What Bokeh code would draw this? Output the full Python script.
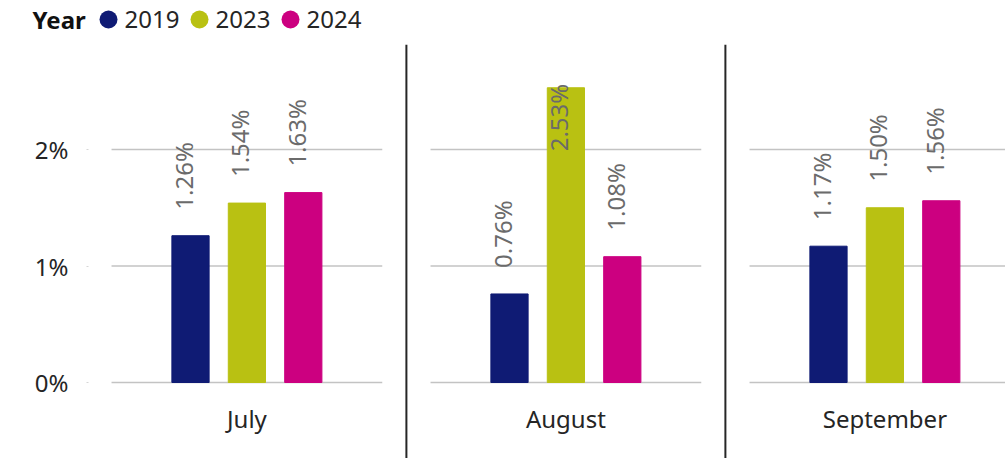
import math
from bokeh.plotting import figure
from bokeh.layouts import column
from bokeh.models import Range1d, ColumnDataSource, FixedTicker
from bokeh.core.properties import value
from bokeh.embed import file_html
from bokeh.resources import INLINE

# ---- data ----
months = ["July", "August", "September"]
years = ["2019", "2023", "2024"]
colors = ["#0f1b74", "#b9c112", "#cc0080"]
v2019 = [1.26, 0.76, 1.17]
v2023 = [1.54, 2.53, 1.50]
v2024 = [1.63, 1.08, 1.56]
y_ticks = [0, 1, 2]
y_tick_labels = ["0%", "1%", "2%"]
legend_title = "Year"

# ---- layout constants (style) ----
FONT = "Noto Sans"
W = 1005
TOP_H = 44          # height of the legend strip
H = 458 - TOP_H     # height of the chart
LEFT = 88
GROUP = 5.656       # distance between month groups, in bar slots
BAR_W = 0.66
PX = 116.5          # pixels per 1 percentage point
SLOT = 56.4         # pixels per bar slot
HALF_PANEL = 2.4    # half width of a panel's gridlines, in slots
ZERO_Y = 382 - TOP_H  # pixel row of 0% inside the chart
LABEL_DX = -7 / SLOT  # horizontal nudge of the value labels
LEG_TITLE_X = 32
LEG_MARK_X = [108, 199, 290]
LEG_TEXT_GAP = 16
LEG_Y = 19

series = [v2019, v2023, v2024]
xs, lxs, tops, cols, lab_y, lab_txt, lab_align = [], [], [], [], [], [], []
for g, m in enumerate(months):
    for j, vals in enumerate(series):
        v = vals[g]
        xs.append(g * GROUP + j)
        lxs.append(g * GROUP + j + LABEL_DX)
        tops.append(v)
        cols.append(colors[j])
        lab_txt.append(f"{v:.2f}%")
        if v > 2.2:
            lab_y.append(v + 4 / PX)
            lab_align.append("right")
        else:
            lab_y.append(v + 26 / PX)
            lab_align.append("left")

bars = ColumnDataSource(dict(x=xs, lx=lxs, top=tops, color=cols, ly=lab_y, lt=lab_txt, la=lab_align))

# ---- legend strip ----
top = figure(width=W, height=TOP_H, output_backend="svg", toolbar_location=None,
             x_range=Range1d(0, W), y_range=Range1d(TOP_H, 0),
             x_axis_location=None, y_axis_location=None,
             min_border_left=0, min_border_right=0, min_border_top=0, min_border_bottom=0)
if "frame_align" in type(top).properties():
    top.frame_align = False
top.outline_line_color = None
top.xgrid.visible = False
top.ygrid.visible = False
top.text(x=[LEG_TITLE_X], y=[LEG_Y], text=[legend_title], text_baseline="middle",
         text_font=value(FONT), text_font_style="bold", text_font_size="24px",
         text_color="#111111")
top.scatter(x=LEG_MARK_X, y=[LEG_Y] * len(years), marker="circle", size=18,
            color=colors, line_color=None)
top.text(x=[x + LEG_TEXT_GAP for x in LEG_MARK_X], y=[LEG_Y] * len(years), text=years,
         text_baseline="middle", text_font=value(FONT), text_font_size="24px",
         text_color="#252525")

# ---- chart ----
x0 = -(190 - LEFT) / SLOT
x1 = (W - 190) / SLOT
y0 = -(H - ZERO_Y) / PX
y1 = ZERO_Y / PX

p = figure(width=W, height=H, output_backend="svg", toolbar_location=None,
           x_range=Range1d(x0, x1), y_range=Range1d(y0, y1),
           x_axis_location=None, min_border_left=LEFT, min_border_right=0,
           min_border_top=0, min_border_bottom=0)
if "frame_align" in type(p).properties():
    p.frame_align = False
p.outline_line_color = None
p.xgrid.visible = False
p.ygrid.visible = False

ax = p.yaxis[0]
ax.ticker = FixedTicker(ticks=y_ticks)
ax.major_label_overrides = {t: l for t, l in zip(y_ticks, y_tick_labels)}
ax.axis_line_color = None
ax.major_tick_in = 0
ax.major_tick_out = 2
ax.major_tick_line_color = "#d6d6d6"
ax.minor_tick_line_color = None
ax.major_label_standoff = 18
ax.major_label_text_font = FONT
ax.major_label_text_font_size = "24px"
ax.major_label_text_color = "#252525"

# panel gridlines
gx0, gx1, gy = [], [], []
for g in range(len(months)):
    c = g * GROUP + 1
    for t in y_ticks:
        gx0.append(c - HALF_PANEL)
        gx1.append(c + HALF_PANEL)
        gy.append(t)
p.segment(x0=gx0, x1=gx1, y0=gy, y1=gy, line_color="#c3c3c3", line_width=1.5)

# separators between months
sx = [(g + 0.5) * GROUP + 1 for g in range(len(months) - 1)]
p.segment(x0=sx, x1=sx, y0=[y1] * len(sx), y1=[y0] * len(sx),
          line_color="#262626", line_width=2)

p.vbar(x="x", top="top", bottom=0, width=BAR_W, color="color", source=bars)

p.text(x="lx", y="ly", text="lt", angle=math.pi / 2, text_align="la", text_baseline="middle",
       text_font=value(FONT), text_font_size="24px", text_color="#6b6b6b", source=bars)

p.text(x=[g * GROUP + 1 for g in range(len(months))], y=[-36 / PX] * len(months), text=months,
       text_align="center", text_baseline="middle", text_font=value(FONT),
       text_font_size="24px", text_color="#252525")

layout = column(top, p, spacing=0)
open("out.html", "w").write(file_html(layout, INLINE))
